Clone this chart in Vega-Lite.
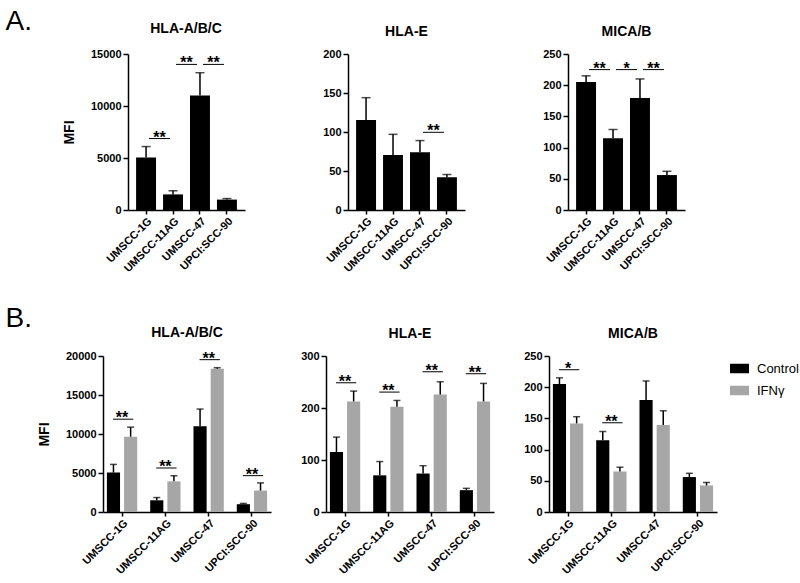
{
  "$schema": "https://vega.github.io/schema/vega-lite/v6.json",
  "background": "white",
  "padding": {"left": 5, "top": 7, "right": 0, "bottom": 5},
  "datasets": {
    "bars": [
      {"m": "HLA-A/B/C", "cell": "UMSCC-1G", "cond": "Control", "mfi": 5050, "upper": 6100},
      {"m": "HLA-A/B/C", "cell": "UMSCC-11AG", "cond": "Control", "mfi": 1500, "upper": 1850},
      {"m": "HLA-A/B/C", "cell": "UMSCC-47", "cond": "Control", "mfi": 11000, "upper": 13200},
      {"m": "HLA-A/B/C", "cell": "UPCI:SCC-90", "cond": "Control", "mfi": 1000, "upper": 1100},
      {"m": "HLA-A/B/C", "cell": "UMSCC-1G", "cond": "IFNγ", "mfi": 9650, "upper": 10880},
      {"m": "HLA-A/B/C", "cell": "UMSCC-11AG", "cond": "IFNγ", "mfi": 3930, "upper": 4650},
      {"m": "HLA-A/B/C", "cell": "UMSCC-47", "cond": "IFNγ", "mfi": 18350, "upper": 18500},
      {"m": "HLA-A/B/C", "cell": "UPCI:SCC-90", "cond": "IFNγ", "mfi": 2750, "upper": 3730},
      {"m": "HLA-E", "cell": "UMSCC-1G", "cond": "Control", "mfi": 115.5, "upper": 144},
      {"m": "HLA-E", "cell": "UMSCC-11AG", "cond": "Control", "mfi": 70.5, "upper": 97},
      {"m": "HLA-E", "cell": "UMSCC-47", "cond": "Control", "mfi": 74, "upper": 89},
      {"m": "HLA-E", "cell": "UPCI:SCC-90", "cond": "Control", "mfi": 42, "upper": 45.5},
      {"m": "HLA-E", "cell": "UMSCC-1G", "cond": "IFNγ", "mfi": 212.6, "upper": 232.5},
      {"m": "HLA-E", "cell": "UMSCC-11AG", "cond": "IFNγ", "mfi": 202.3, "upper": 214.5},
      {"m": "HLA-E", "cell": "UMSCC-47", "cond": "IFNγ", "mfi": 226, "upper": 250.5},
      {"m": "HLA-E", "cell": "UPCI:SCC-90", "cond": "IFNγ", "mfi": 212.6, "upper": 247.3},
      {"m": "MICA/B", "cell": "UMSCC-1G", "cond": "Control", "mfi": 205, "upper": 215},
      {"m": "MICA/B", "cell": "UMSCC-11AG", "cond": "Control", "mfi": 115, "upper": 129},
      {"m": "MICA/B", "cell": "UMSCC-47", "cond": "Control", "mfi": 179.5, "upper": 210},
      {"m": "MICA/B", "cell": "UPCI:SCC-90", "cond": "Control", "mfi": 56, "upper": 62},
      {"m": "MICA/B", "cell": "UMSCC-1G", "cond": "IFNγ", "mfi": 142, "upper": 152.7},
      {"m": "MICA/B", "cell": "UMSCC-11AG", "cond": "IFNγ", "mfi": 64.9, "upper": 71.8},
      {"m": "MICA/B", "cell": "UMSCC-47", "cond": "IFNγ", "mfi": 139.4, "upper": 162.2},
      {"m": "MICA/B", "cell": "UPCI:SCC-90", "cond": "IFNγ", "mfi": 42.6, "upper": 47.3}
    ],
    "sig": [
      {"row": "A", "m": "HLA-A/B/C", "from": "UMSCC-1G", "to": "UMSCC-11AG", "y": 6870, "label": "**"},
      {"row": "A", "m": "HLA-A/B/C", "from": "UMSCC-11AG", "to": "UMSCC-47", "y": 14000, "label": "**"},
      {"row": "A", "m": "HLA-A/B/C", "from": "UMSCC-47", "to": "UPCI:SCC-90", "y": 14000, "label": "**"},
      {"row": "A", "m": "HLA-E", "from": "UMSCC-47", "to": "UPCI:SCC-90", "y": 99.6, "label": "**"},
      {"row": "A", "m": "MICA/B", "from": "UMSCC-1G", "to": "UMSCC-11AG", "y": 225, "label": "**"},
      {"row": "A", "m": "MICA/B", "from": "UMSCC-11AG", "to": "UMSCC-47", "y": 225, "label": "*"},
      {"row": "A", "m": "MICA/B", "from": "UMSCC-47", "to": "UPCI:SCC-90", "y": 225, "label": "**"},
      {"row": "B", "m": "HLA-A/B/C", "from": "UMSCC-1G", "to": "UMSCC-1G", "y": 11900, "label": "**"},
      {"row": "B", "m": "HLA-A/B/C", "from": "UMSCC-11AG", "to": "UMSCC-11AG", "y": 5640, "label": "**"},
      {"row": "B", "m": "HLA-A/B/C", "from": "UMSCC-47", "to": "UMSCC-47", "y": 19530, "label": "**"},
      {"row": "B", "m": "HLA-A/B/C", "from": "UPCI:SCC-90", "to": "UPCI:SCC-90", "y": 4660, "label": "**"},
      {"row": "B", "m": "HLA-E", "from": "UMSCC-1G", "to": "UMSCC-1G", "y": 248.5, "label": "**"},
      {"row": "B", "m": "HLA-E", "from": "UMSCC-11AG", "to": "UMSCC-11AG", "y": 230.6, "label": "**"},
      {"row": "B", "m": "HLA-E", "from": "UMSCC-47", "to": "UMSCC-47", "y": 269.7, "label": "**"},
      {"row": "B", "m": "HLA-E", "from": "UPCI:SCC-90", "to": "UPCI:SCC-90", "y": 265.9, "label": "**"},
      {"row": "B", "m": "MICA/B", "from": "UMSCC-1G", "to": "UMSCC-1G", "y": 228, "label": "*"},
      {"row": "B", "m": "MICA/B", "from": "UMSCC-11AG", "to": "UMSCC-11AG", "y": 143, "label": "**"}
    ]
  },
  "spacing": 30,
  "vconcat": [
    {
      "spacing": 77,
      "resolve": {"scale": {"x": "independent", "y": "independent"}},
      "hconcat": [
        {
          "width": 142, "height": 156, "title": {"text": "HLA-A/B/C", "offset": -29, "dx": 12},
          "layer": [
            {"data": {"name": "bars"}, "transform": [{"filter": "datum.m == 'HLA-A/B/C' && datum.cond == 'Control'"}],
             "layer": [
              {"mark": {"type": "bar", "color": "#000"},
               "encoding": {
                 "x": {"field": "cell", "type": "nominal", "title": "A.", "scale": {"domain": ["UMSCC-1G", "UMSCC-11AG", "UMSCC-47", "UPCI:SCC-90"], "range": [25, 142], "paddingInner": 0.26, "paddingOuter": 0.3},
                   "axis": {"titleX": -98, "titleY": -181, "titleAngle": 0, "titleAlign": "left", "titleBaseline": "alphabetic", "titleFontSize": 28, "titleFontWeight": "normal"}},
                 "y": {"field": "mfi", "type": "quantitative", "title": "MFI", "scale": {"domain": [0, 15000], "nice": false}, "axis": {"values": [0, 5000, 10000, 15000], "format": "d", "offset": -25}}}},
              {"mark": {"type": "rule", "color": "#000", "strokeWidth": 1.5},
               "encoding": {"x": {"field": "cell", "type": "nominal", "title": "A."}, "y": {"field": "mfi", "type": "quantitative", "title": "MFI", "axis": {"values": [0, 5000, 10000, 15000], "format": "d", "offset": -25}}, "y2": {"field": "upper"}}},
              {"mark": {"type": "tick", "color": "#000", "thickness": 1.5, "size": 9},
               "encoding": {"x": {"field": "cell", "type": "nominal", "title": "A."}, "y": {"field": "upper", "type": "quantitative", "title": "MFI", "axis": {"values": [0, 5000, 10000, 15000], "format": "d", "offset": -25}}}}
             ]},
            {"data": {"name": "sig"}, "transform": [{"filter": "datum.row == 'A' && datum.m == 'HLA-A/B/C'"}],
             "layer": [
              {"mark": {"type": "rule", "color": "#000", "strokeWidth": 1},
               "encoding": {"x": {"field": "from", "type": "nominal", "title": "A.", "bandPosition": 0.65}, "x2": {"field": "to", "bandPosition": 0.35}, "y": {"field": "y", "type": "quantitative", "title": "MFI", "axis": {"values": [0, 5000, 10000, 15000], "format": "d", "offset": -25}}}},
              {"mark": {"type": "text", "fontSize": 16, "fontWeight": "bold", "baseline": "alphabetic", "dy": 4, "color": "#000"},
               "encoding": {"x": {"field": "from", "type": "nominal", "title": "A.", "bandPosition": 1.175}, "y": {"field": "y", "type": "quantitative", "title": "MFI", "axis": {"values": [0, 5000, 10000, 15000], "format": "d", "offset": -25}}, "text": {"field": "label"}}}
             ]}
          ]
        },
        {
          "width": 117, "height": 156, "title": {"text": "HLA-E", "offset": 9},
          "layer": [
            {"data": {"name": "bars"}, "transform": [{"filter": "datum.m == 'HLA-E' && datum.cond == 'Control'"}],
             "layer": [
              {"mark": {"type": "bar", "color": "#000"},
               "encoding": {
                 "x": {"field": "cell", "type": "nominal", "title": null, "scale": {"domain": ["UMSCC-1G", "UMSCC-11AG", "UMSCC-47", "UPCI:SCC-90"], "paddingInner": 0.26, "paddingOuter": 0.3}},
                 "y": {"field": "mfi", "type": "quantitative", "title": null, "scale": {"domain": [0, 200], "nice": false}, "axis": {"values": [0, 50, 100, 150, 200], "format": "d"}}}},
              {"mark": {"type": "rule", "color": "#000", "strokeWidth": 1.5},
               "encoding": {"x": {"field": "cell", "type": "nominal", "title": null}, "y": {"field": "mfi", "type": "quantitative", "title": null, "axis": {"values": [0, 50, 100, 150, 200], "format": "d"}}, "y2": {"field": "upper"}}},
              {"mark": {"type": "tick", "color": "#000", "thickness": 1.5, "size": 9},
               "encoding": {"x": {"field": "cell", "type": "nominal", "title": null}, "y": {"field": "upper", "type": "quantitative", "title": null, "axis": {"values": [0, 50, 100, 150, 200], "format": "d"}}}}
             ]},
            {"data": {"name": "sig"}, "transform": [{"filter": "datum.row == 'A' && datum.m == 'HLA-E'"}],
             "layer": [
              {"mark": {"type": "rule", "color": "#000", "strokeWidth": 1},
               "encoding": {"x": {"field": "from", "type": "nominal", "title": null, "bandPosition": 0.65}, "x2": {"field": "to", "bandPosition": 0.35}, "y": {"field": "y", "type": "quantitative", "title": null, "axis": {"values": [0, 50, 100, 150, 200], "format": "d"}}}},
              {"mark": {"type": "text", "fontSize": 16, "fontWeight": "bold", "baseline": "alphabetic", "dy": 4, "color": "#000"},
               "encoding": {"x": {"field": "from", "type": "nominal", "title": null, "bandPosition": 1.175}, "y": {"field": "y", "type": "quantitative", "title": null, "axis": {"values": [0, 50, 100, 150, 200], "format": "d"}}, "text": {"field": "label"}}}
             ]}
          ]
        },
        {
          "width": 117, "height": 156, "title": {"text": "MICA/B", "offset": 9},
          "layer": [
            {"data": {"name": "bars"}, "transform": [{"filter": "datum.m == 'MICA/B' && datum.cond == 'Control'"}],
             "layer": [
              {"mark": {"type": "bar", "color": "#000"},
               "encoding": {
                 "x": {"field": "cell", "type": "nominal", "title": null, "scale": {"domain": ["UMSCC-1G", "UMSCC-11AG", "UMSCC-47", "UPCI:SCC-90"], "paddingInner": 0.26, "paddingOuter": 0.3}},
                 "y": {"field": "mfi", "type": "quantitative", "title": null, "scale": {"domain": [0, 250], "nice": false}, "axis": {"values": [0, 50, 100, 150, 200, 250], "format": "d"}}}},
              {"mark": {"type": "rule", "color": "#000", "strokeWidth": 1.5},
               "encoding": {"x": {"field": "cell", "type": "nominal", "title": null}, "y": {"field": "mfi", "type": "quantitative", "title": null, "axis": {"values": [0, 50, 100, 150, 200, 250], "format": "d"}}, "y2": {"field": "upper"}}},
              {"mark": {"type": "tick", "color": "#000", "thickness": 1.5, "size": 9},
               "encoding": {"x": {"field": "cell", "type": "nominal", "title": null}, "y": {"field": "upper", "type": "quantitative", "title": null, "axis": {"values": [0, 50, 100, 150, 200, 250], "format": "d"}}}}
             ]},
            {"data": {"name": "sig"}, "transform": [{"filter": "datum.row == 'A' && datum.m == 'MICA/B'"}],
             "layer": [
              {"mark": {"type": "rule", "color": "#000", "strokeWidth": 1},
               "encoding": {"x": {"field": "from", "type": "nominal", "title": null, "bandPosition": 0.65}, "x2": {"field": "to", "bandPosition": 0.35}, "y": {"field": "y", "type": "quantitative", "title": null, "axis": {"values": [0, 50, 100, 150, 200, 250], "format": "d"}}}},
              {"mark": {"type": "text", "fontSize": 16, "fontWeight": "bold", "baseline": "alphabetic", "dy": 4, "color": "#000"},
               "encoding": {"x": {"field": "from", "type": "nominal", "title": null, "bandPosition": 1.175}, "y": {"field": "y", "type": "quantitative", "title": null, "axis": {"values": [0, 50, 100, 150, 200, 250], "format": "d"}}, "text": {"field": "label"}}}
             ]}
          ]
        }
      ]
    },
    {
      "spacing": 29,
      "resolve": {"scale": {"x": "independent", "y": "independent", "xOffset": "independent", "color": "independent"}, "legend": {"color": "independent"}},
      "hconcat": [
        {
          "width": 168, "height": 156, "title": {"text": "HLA-A/B/C", "offset": -36},
          "layer": [
            {"data": {"name": "bars"}, "transform": [{"filter": "datum.m == 'HLA-A/B/C'"}],
             "layer": [
              {"mark": {"type": "bar"},
               "encoding": {
                 "x": {"field": "cell", "type": "nominal", "title": "B.", "scale": {"domain": ["UMSCC-1G", "UMSCC-11AG", "UMSCC-47", "UPCI:SCC-90"], "paddingInner": 0.3, "paddingOuter": 0.09},
                   "axis": {"titleX": -98, "titleY": -186, "titleAngle": 0, "titleAlign": "left", "titleBaseline": "alphabetic", "titleFontSize": 28, "titleFontWeight": "normal"}},
                 "xOffset": {"field": "cond", "type": "nominal", "scale": {"domain": ["Control", "IFNγ"], "paddingInner": 0.235, "paddingOuter": 0}},
                 "y": {"field": "mfi", "type": "quantitative", "title": "MFI", "scale": {"domain": [0, 20000], "nice": false}, "axis": {"values": [0, 5000, 10000, 15000, 20000], "format": "d"}},
                 "color": {"field": "cond", "type": "nominal", "scale": {"domain": ["Control", "IFNγ"], "range": ["#000000", "#a6a6a6"]}, "legend": null}}},
              {"mark": {"type": "rule", "color": "#000", "strokeWidth": 1.5},
               "encoding": {"x": {"field": "cell", "type": "nominal", "title": "B."}, "xOffset": {"field": "cond", "type": "nominal"}, "y": {"field": "mfi", "type": "quantitative", "title": "MFI", "axis": {"values": [0, 5000, 10000, 15000, 20000], "format": "d"}}, "y2": {"field": "upper"}}},
              {"mark": {"type": "tick", "color": "#000", "thickness": 1.5, "size": 7},
               "encoding": {"x": {"field": "cell", "type": "nominal", "title": "B."}, "xOffset": {"field": "cond", "type": "nominal"}, "y": {"field": "upper", "type": "quantitative", "title": "MFI", "axis": {"values": [0, 5000, 10000, 15000, 20000], "format": "d"}}}}
             ]},
            {"data": {"name": "sig"}, "transform": [{"filter": "datum.row == 'B' && datum.m == 'HLA-A/B/C'"}],
             "layer": [
              {"mark": {"type": "rule", "color": "#000", "strokeWidth": 1},
               "encoding": {"x": {"field": "from", "type": "nominal", "title": "B.", "bandPosition": 0.2}, "x2": {"field": "to", "bandPosition": 0.87}, "y": {"field": "y", "type": "quantitative", "title": "MFI", "axis": {"values": [0, 5000, 10000, 15000, 20000], "format": "d"}}}},
              {"mark": {"type": "text", "fontSize": 16, "fontWeight": "bold", "baseline": "alphabetic", "dy": 4, "color": "#000"},
               "encoding": {"x": {"field": "from", "type": "nominal", "title": "B."}, "y": {"field": "y", "type": "quantitative", "title": "MFI", "axis": {"values": [0, 5000, 10000, 15000, 20000], "format": "d"}}, "text": {"field": "label"}}}
             ]}
          ]
        },
        {
          "width": 168, "height": 156, "title": {"text": "HLA-E", "offset": 9},
          "layer": [
            {"data": {"name": "bars"}, "transform": [{"filter": "datum.m == 'HLA-E'"}],
             "layer": [
              {"mark": {"type": "bar"},
               "encoding": {
                 "x": {"field": "cell", "type": "nominal", "title": null, "scale": {"domain": ["UMSCC-1G", "UMSCC-11AG", "UMSCC-47", "UPCI:SCC-90"], "paddingInner": 0.3, "paddingOuter": 0.09}},
                 "xOffset": {"field": "cond", "type": "nominal", "scale": {"domain": ["Control", "IFNγ"], "paddingInner": 0.235, "paddingOuter": 0}},
                 "y": {"field": "mfi", "type": "quantitative", "title": null, "scale": {"domain": [0, 300], "nice": false}, "axis": {"values": [0, 100, 200, 300], "format": "d"}},
                 "color": {"field": "cond", "type": "nominal", "scale": {"domain": ["Control", "IFNγ"], "range": ["#000000", "#a6a6a6"]}, "legend": null}}},
              {"mark": {"type": "rule", "color": "#000", "strokeWidth": 1.5},
               "encoding": {"x": {"field": "cell", "type": "nominal", "title": null}, "xOffset": {"field": "cond", "type": "nominal"}, "y": {"field": "mfi", "type": "quantitative", "title": null, "axis": {"values": [0, 100, 200, 300], "format": "d"}}, "y2": {"field": "upper"}}},
              {"mark": {"type": "tick", "color": "#000", "thickness": 1.5, "size": 7},
               "encoding": {"x": {"field": "cell", "type": "nominal", "title": null}, "xOffset": {"field": "cond", "type": "nominal"}, "y": {"field": "upper", "type": "quantitative", "title": null, "axis": {"values": [0, 100, 200, 300], "format": "d"}}}}
             ]},
            {"data": {"name": "sig"}, "transform": [{"filter": "datum.row == 'B' && datum.m == 'HLA-E'"}],
             "layer": [
              {"mark": {"type": "rule", "color": "#000", "strokeWidth": 1},
               "encoding": {"x": {"field": "from", "type": "nominal", "title": null, "bandPosition": 0.2}, "x2": {"field": "to", "bandPosition": 0.87}, "y": {"field": "y", "type": "quantitative", "title": null, "axis": {"values": [0, 100, 200, 300], "format": "d"}}}},
              {"mark": {"type": "text", "fontSize": 16, "fontWeight": "bold", "baseline": "alphabetic", "dy": 4, "color": "#000"},
               "encoding": {"x": {"field": "from", "type": "nominal", "title": null}, "y": {"field": "y", "type": "quantitative", "title": null, "axis": {"values": [0, 100, 200, 300], "format": "d"}}, "text": {"field": "label"}}}
             ]}
          ]
        },
        {
          "width": 168, "height": 156, "title": {"text": "MICA/B", "offset": 9},
          "layer": [
            {"data": {"name": "bars"}, "transform": [{"filter": "datum.m == 'MICA/B'"}],
             "layer": [
              {"mark": {"type": "bar"},
               "encoding": {
                 "x": {"field": "cell", "type": "nominal", "title": null, "scale": {"domain": ["UMSCC-1G", "UMSCC-11AG", "UMSCC-47", "UPCI:SCC-90"], "paddingInner": 0.3, "paddingOuter": 0.09}},
                 "xOffset": {"field": "cond", "type": "nominal", "scale": {"domain": ["Control", "IFNγ"], "paddingInner": 0.235, "paddingOuter": 0}},
                 "y": {"field": "mfi", "type": "quantitative", "title": null, "scale": {"domain": [0, 250], "nice": false}, "axis": {"values": [0, 50, 100, 150, 200, 250], "format": "d"}},
                 "color": {"field": "cond", "type": "nominal", "scale": {"domain": ["Control", "IFNγ"], "range": ["#000000", "#a6a6a6"]},
                   "legend": {"title": null, "orient": "right", "offset": 10, "padding": 3, "symbolType": "M-1,-0.5H1V0.5H-1Z", "symbolSize": 361, "symbolStrokeWidth": 0, "labelFontSize": 13, "labelFontWeight": "normal", "labelColor": "#000", "labelOffset": 8, "rowPadding": 5}}}},
              {"mark": {"type": "rule", "color": "#000", "strokeWidth": 1.5},
               "encoding": {"x": {"field": "cell", "type": "nominal", "title": null}, "xOffset": {"field": "cond", "type": "nominal"}, "y": {"field": "mfi", "type": "quantitative", "title": null, "axis": {"values": [0, 50, 100, 150, 200, 250], "format": "d"}}, "y2": {"field": "upper"}}},
              {"mark": {"type": "tick", "color": "#000", "thickness": 1.5, "size": 7},
               "encoding": {"x": {"field": "cell", "type": "nominal", "title": null}, "xOffset": {"field": "cond", "type": "nominal"}, "y": {"field": "upper", "type": "quantitative", "title": null, "axis": {"values": [0, 50, 100, 150, 200, 250], "format": "d"}}}}
             ]},
            {"data": {"name": "sig"}, "transform": [{"filter": "datum.row == 'B' && datum.m == 'MICA/B'"}],
             "layer": [
              {"mark": {"type": "rule", "color": "#000", "strokeWidth": 1},
               "encoding": {"x": {"field": "from", "type": "nominal", "title": null, "bandPosition": 0.2}, "x2": {"field": "to", "bandPosition": 0.87}, "y": {"field": "y", "type": "quantitative", "title": null, "axis": {"values": [0, 50, 100, 150, 200, 250], "format": "d"}}}},
              {"mark": {"type": "text", "fontSize": 16, "fontWeight": "bold", "baseline": "alphabetic", "dy": 4, "color": "#000"},
               "encoding": {"x": {"field": "from", "type": "nominal", "title": null}, "y": {"field": "y", "type": "quantitative", "title": null, "axis": {"values": [0, 50, 100, 150, 200, 250], "format": "d"}}, "text": {"field": "label"}}}
             ]}
          ]
        }
      ]
    }
  ],
  "config": {
    "font": "Liberation Sans",
    "view": {"stroke": null},
    "axis": {"grid": false, "labelOverlap": false, "domainColor": "#000", "domainWidth": 1.5, "tickColor": "#000", "tickWidth": 1.5, "labelColor": "#000", "labelFontWeight": "bold", "labelFontSize": 11, "titleColor": "#000", "titleFontWeight": "bold", "titleFontSize": 14},
    "axisX": {"labelAngle": -45, "tickSize": 4, "labelPadding": 1},
    "axisY": {"tickSize": 5, "titlePadding": 14, "labelPadding": 2},
    "title": {"fontSize": 14, "fontWeight": "bold", "color": "#000", "baseline": "alphabetic", "offset": 11},
    "legend": {"labelFont": "Liberation Sans"}
  }
}
